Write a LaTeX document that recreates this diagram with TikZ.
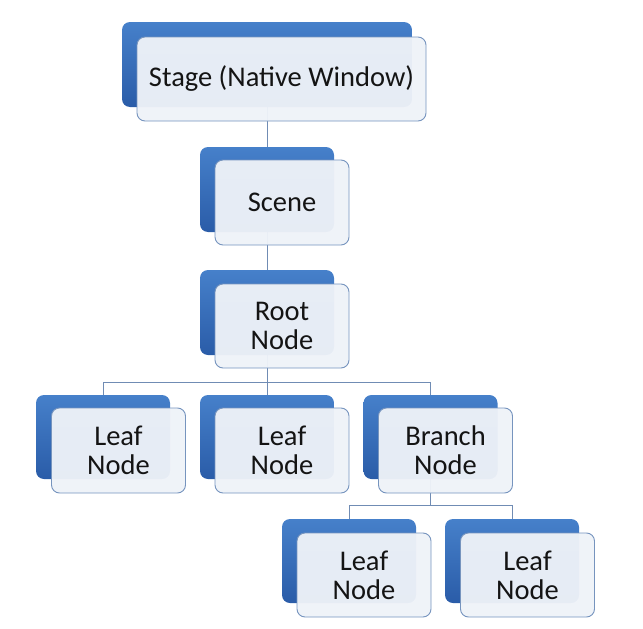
\documentclass[tikz,border=0pt]{standalone}
\usepackage{fontspec}
\setmainfont{Carlito}
\usetikzlibrary{backgrounds,calc}
\definecolor{backtop}{RGB}{70,128,202}
\definecolor{backbot}{RGB}{42,92,168}
\definecolor{cardfill}{RGB}{238,242,248}
\definecolor{cardline}{RGB}{118,148,190}
\definecolor{linkcol}{RGB}{112,140,180}
\tikzset{
  backcard/.style={rectangle, rounded corners=8pt, inner sep=0pt,
    top color=backtop, bottom color=backbot, draw=none},
  frontcard/.style={rectangle, rounded corners=8pt, inner sep=0pt,
    fill=cardfill, fill opacity=0.96, text opacity=1, draw=cardline, line width=0.9pt,
    align=center, text=black!92, font=\fontsize{28.5}{29}\selectfont},
  link/.style={draw=linkcol, line width=1pt},
}
\begin{document}
\begin{tikzpicture}[x=1pt,y=-1pt]
\useasboundingbox (0,0) rectangle (643,629);
% Stage
\node[backcard, minimum width=290pt, minimum height=85pt] (stage-b) at (267,64.5) {};
\node[frontcard, minimum width=289pt, minimum height=84pt] (stage) at (281.5,79) {Stage (Native Window)};
% Scene
\node[backcard, minimum width=134pt, minimum height=85pt] (scene-b) at (267,189.5) {};
\node[frontcard, minimum width=134pt, minimum height=85pt] (scene) at (282,202.5) {Scene};
% Root
\node[backcard, minimum width=134pt, minimum height=85pt] (root-b) at (267,312.5) {};
\node[frontcard, minimum width=134pt, minimum height=84pt] (root) at (282,326) {Root\\Node};
% Row 3
\node[backcard, minimum width=134pt, minimum height=84pt] (leaf1-b) at (103,437) {};
\node[frontcard, minimum width=134pt, minimum height=85pt] (leaf1) at (118.5,450.5) {Leaf\\Node};
\node[backcard, minimum width=134pt, minimum height=84pt] (leaf2-b) at (267,437) {};
\node[frontcard, minimum width=134pt, minimum height=85pt] (leaf2) at (282,450.5) {Leaf\\Node};
\node[backcard, minimum width=134pt, minimum height=84pt] (branch-b) at (430.5,437) {};
\node[frontcard, minimum width=134pt, minimum height=85pt] (branch) at (445.5,450.5) {Branch\\Node};
% Row 4
\node[backcard, minimum width=134pt, minimum height=84pt] (leaf3-b) at (349,561) {};
\node[frontcard, minimum width=134pt, minimum height=84pt] (leaf3) at (364,575) {Leaf\\Node};
\node[backcard, minimum width=134pt, minimum height=84pt] (leaf4-b) at (512,561) {};
\node[frontcard, minimum width=134pt, minimum height=84pt] (leaf4) at (527.5,575) {Leaf\\Node};
% junctions
\coordinate (j1) at (267,382);
\coordinate (j2) at (430.5,505);
\begin{scope}[on background layer]
  \draw[link] (stage-b.center) -- (scene-b.center);
  \draw[link] (scene-b.center) -- (root-b.center);
  \draw[link] (root-b.center) -- (j1);
  \draw[link] (j1) -| (leaf1-b.center);
  \draw[link] (j1) -- (leaf2-b.center);
  \draw[link] (j1) -| (branch-b.center);
  \draw[link] (branch-b.center) -- (j2);
  \draw[link] (j2) -| (leaf3-b.center);
  \draw[link] (j2) -| (leaf4-b.center);
\end{scope}
\end{tikzpicture}
\end{document}
